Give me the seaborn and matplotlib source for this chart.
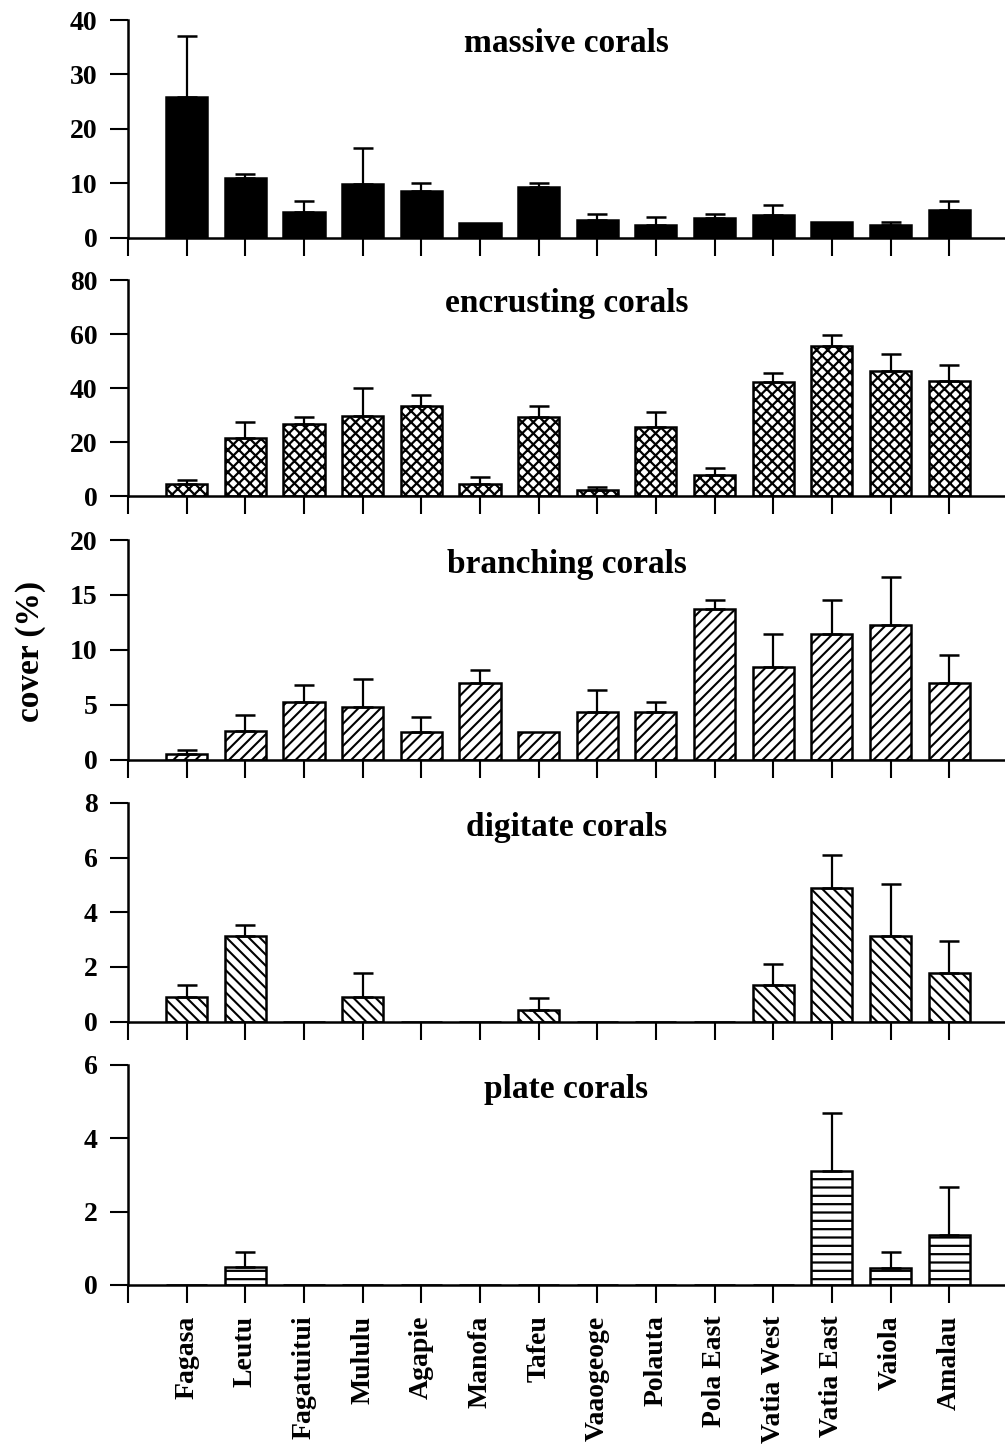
import numpy as np
import pandas as pd
import matplotlib
matplotlib.use("Agg")
import matplotlib.pyplot as plt
import seaborn as sns

# Survey sites along the reef
sites = ["Fagasa", "Leutu", "Fagatuitui", "Mululu", "Agapie", "Manofa", "Tafeu",
         "Vaaogeoge", "Polauta", "Pola East", "Vatia West", "Vatia East", "Vaiola", "Amalau"]

# Mean cover (%) and standard error per growth form
massive_mean = [25.8, 10.9, 4.6, 9.9, 8.5, 2.7, 9.3, 3.3, 2.3, 3.6, 4.1, 2.8, 2.3, 5.0]
massive_se = [11.2, 0.8, 2.2, 6.6, 1.6, 0.0, 0.7, 1.1, 1.4, 0.8, 1.8, 0.0, 0.5, 1.7]

encrusting_mean = [4.6, 21.5, 26.5, 29.7, 33.3, 4.6, 29.2, 2.4, 25.7, 7.8, 42.3, 55.5, 46.4, 42.5]
encrusting_se = [1.2, 5.8, 2.6, 10.4, 4.2, 2.3, 4.2, 0.9, 5.5, 2.7, 3.2, 4.0, 6.2, 6.2]

branching_mean = [0.46, 2.6, 5.2, 4.8, 2.55, 7.0, 2.5, 4.35, 4.35, 13.7, 8.4, 11.4, 12.3, 7.0]
branching_se = [0.39, 1.5, 1.6, 2.5, 1.35, 1.2, 0.0, 1.95, 0.85, 0.8, 3.0, 3.1, 4.3, 2.5]

digitate_mean = [0.89, 3.12, 0, 0.89, 0, 0, 0.42, 0, 0, 0, 1.33, 4.9, 3.14, 1.79]
digitate_se = [0.45, 0.42, 0, 0.89, 0, 0, 0.43, 0, 0, 0, 0.79, 1.18, 1.9, 1.14]

plate_mean = [0, 0.48, 0, 0, 0, 0, 0, 0, 0, 0, 0, 3.10, 0.47, 1.37]
plate_se = [0, 0.43, 0, 0, 0, 0, 0, 0, 0, 0, 0, 1.59, 0.43, 1.30]

# title, means, errors, y max, y ticks, hatch, fill, hatch line width
panels = [
    ("massive corals", massive_mean, massive_se, 40, [0, 10, 20, 30, 40], None, "black", 1.0),
    ("encrusting corals", encrusting_mean, encrusting_se, 80, [0, 20, 40, 60, 80], "xxx", "white", 1.6),
    ("branching corals", branching_mean, branching_se, 20, [0, 5, 10, 15, 20], "///", "white", 1.5),
    ("digitate corals", digitate_mean, digitate_se, 8, [0, 2, 4, 6, 8], "\\\\\\", "white", 1.5),
    ("plate corals", plate_mean, plate_se, 6, [0, 2, 4, 6], "--", "white", 1.6),
]

sns.set_style("ticks")
plt.rcParams["font.family"] = ["Liberation Serif", "DejaVu Serif"]
plt.rcParams["font.weight"] = "bold"
plt.rcParams["hatch.color"] = "black"
for key in ("text.color", "axes.labelcolor", "xtick.color", "ytick.color", "axes.edgecolor"):
    plt.rcParams[key] = "black"

W, H = 1005, 1454
fig = plt.figure(figsize=(W / 100, H / 100), dpi=100)

# panel extents in pixels (top, bottom)
extents = [(20, 237.5), (280, 496), (540, 759.5), (803, 1021.5), (1065, 1285)]
left_px, right_px = 128, 1005

n = len(sites)
pos = np.arange(n)

for i, ((title, mean, se, ymax, yticks, hatch, fc, hlw), (top, bot)) in enumerate(zip(panels, extents)):
    plt.rcParams["hatch.linewidth"] = hlw
    ax = fig.add_axes([left_px / W, 1 - bot / H, (right_px - left_px) / W, (bot - top) / H])
    df = pd.DataFrame({"site": sites, "cover": mean})
    sns.barplot(data=df, x="site", y="cover", order=sites, ax=ax, width=0.7,
                color=fc, edgecolor="black", linewidth=1.8, errorbar=None,
                saturation=1)
    for p in ax.patches:
        p.set_facecolor(fc)
        if hatch:
            p.set_hatch(hatch)
            if hasattr(p, "set_hatch_linewidth"):
                p.set_hatch_linewidth(hlw)
    m = np.asarray(mean)
    s = np.asarray(se)
    keep = s > 0
    ax.errorbar(pos[keep], m[keep], yerr=[np.zeros(keep.sum()), s[keep]], fmt="none",
                ecolor="black", elinewidth=1.6, capsize=7, capthick=1.8, zorder=1)

    ax.set_xlim(-1, 13.95)
    ax.set_ylim(0, ymax)
    ax.set_yticks(yticks)
    ax.set_yticklabels([str(t) for t in yticks], fontsize=20, fontweight="bold")
    ax.set_xticks(np.arange(-1, n))
    if i == len(panels) - 1:
        ax.set_xticklabels([""] + sites, rotation=90, fontsize=20, fontweight="bold")
    else:
        ax.set_xticklabels([])
    ax.set_xlabel("")
    ax.set_ylabel("")
    ax.tick_params(axis="y", direction="out", length=13, width=1.5, pad=9, colors="black")
    ax.tick_params(axis="x", direction="out", length=13, width=1.5, pad=9, colors="black")
    for side in ("top", "right"):
        ax.spines[side].set_visible(False)
    for side in ("left", "bottom"):
        ax.spines[side].set_linewidth(1.8)
        ax.spines[side].set_color("black")
    ax.text(0.5, 0.89, title, transform=ax.transAxes, ha="center", va="center",
            fontsize=24, fontweight="bold", color="black")
    ax.set_facecolor("white")

fig.text(30 / W, 1 - 651 / H, "cover (%)", rotation=90, ha="center", va="center",
         fontsize=24, fontweight="bold", color="black")

fig.savefig("out.png", dpi=100, facecolor="white")
